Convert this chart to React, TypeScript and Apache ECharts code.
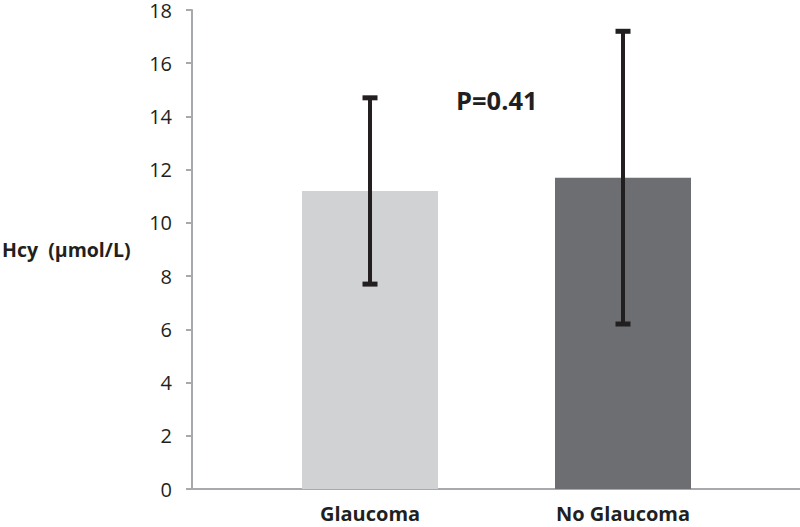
import React, { useEffect, useRef } from "react";
import * as echarts from "echarts";

const categories = ["Glaucoma", "No Glaucoma"];
const means = [11.2, 11.7];
const errLow = [7.7, 6.2];
const errHigh = [14.7, 17.2];
const barColors = ["#d1d2d4", "#6d6e71"];
const yTicks = { min: 0, max: 18, interval: 2 };
const yTitle = "Hcy  (µmol/L)";
const pLabel = "P=0.41";

export default function App() {
  const ref = useRef<HTMLDivElement>(null);
  useEffect(() => {
    if (!ref.current) return;
    const chart = echarts.init(ref.current, null, { renderer: "svg" });
    const font = "'Open Sans', 'DejaVu Sans', sans-serif";
    const textColor = "#231f20";
    const axisColor = "#a7a9ac";
    chart.setOption({
      animation: false,
      backgroundColor: "#ffffff",
      grid: { left: 192, right: 0, top: 6, bottom: 38, containLabel: false },
      xAxis: {
        type: "value",
        min: -0.7036,
        max: 1.6996,
        splitLine: { show: false },
        axisLine: { show: true, onZero: false, lineStyle: { color: axisColor, width: 2 } },
        axisTick: { show: false },
        axisLabel: {
          customValues: [0, 1],
          formatter: (v: number) => categories[Math.round(v)] ?? "",
          color: textColor,
          fontFamily: font,
          fontWeight: "bold",
          fontSize: 20,
          margin: 14,
        },
      },
      yAxis: {
        type: "value",
        min: yTicks.min,
        max: yTicks.max,
        interval: yTicks.interval,
        splitLine: { show: false },
        axisLine: { show: true, onZero: false, lineStyle: { color: axisColor, width: 2 } },
        axisTick: { show: true, length: 6, lineStyle: { color: axisColor, width: 2 } },
        axisLabel: {
          color: textColor,
          fontFamily: font,
          fontSize: 20,
          lineHeight: 14,
          margin: 20,
        },
      },
      graphic: [
        {
          type: "text",
          left: 2,
          top: 239,
          style: {
            text: yTitle,
            fill: textColor,
            font: `bold 19.5px ${font}`,
          },
        },
        {
          type: "text",
          left: 456,
          top: 87,
          style: {
            text: pLabel,
            fill: textColor,
            font: `bold 25.5px ${font}`,
          },
        },
      ],
      series: [
        {
          type: "bar",
          barWidth: 136,
          data: means.map((m, i) => ({
            value: [i, m],
            itemStyle: { color: barColors[i] },
          })),
        },
        {
          type: "custom",
          z: 10,
          data: means.map((_, i) => [i, errLow[i], errHigh[i]]),
          renderItem: (params: any, api: any) => {
            const x = api.value(0);
            const top = api.coord([x, api.value(2)]);
            const bot = api.coord([x, api.value(1)]);
            const half = 7.5;
            const stroke = { stroke: "#231f20", lineWidth: 4 };
            const cap = { stroke: "#231f20", lineWidth: 5 };
            return {
              type: "group",
              children: [
                { type: "line", shape: { x1: top[0], y1: top[1], x2: bot[0], y2: bot[1] }, style: stroke },
                { type: "line", shape: { x1: top[0] - half, y1: top[1], x2: top[0] + half, y2: top[1] }, style: cap },
                { type: "line", shape: { x1: bot[0] - half, y1: bot[1], x2: bot[0] + half, y2: bot[1] }, style: cap },
              ],
            };
          },
        },
      ],
    });
    return () => chart.dispose();
  }, []);
  return (
    <div
      ref={ref}
      style={{ position: "absolute", left: 0, top: 0, width: 800, height: 527 }}
    />
  );
}
